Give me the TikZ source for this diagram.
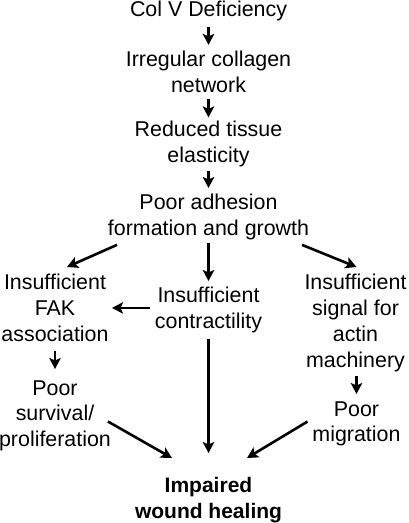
\documentclass[tikz,border=0pt]{standalone}
\usepackage{fontspec}
\setmainfont{Liberation Sans}
\usetikzlibrary{arrows.meta}
\begin{document}
\begin{tikzpicture}[x=1pt,y=-1pt,
  lbl/.style={anchor=north,inner sep=0pt,outer sep=0pt,align=center,
    font=\fontsize{21.4}{25.7}\selectfont},
  arr/.style={line width=2.6pt,-{Stealth[length=11pt,width=11.5pt,inset=2.5pt]}}]
\useasboundingbox[fill=white] (0,0) rectangle (408,523);
% nodes
\node[lbl] (colv) at (208.5,1.4) {Col V Deficiency};
\node[lbl] (irr) at (208.5,51.4) {Irregular collagen\\network};
\node[lbl] (red) at (208.5,121.4) {Reduced tissue\\elasticity};
\node[lbl] (adh) at (208.5,194.4) {Poor adhesion\\formation and growth};
\node[lbl] (fak) at (55,274.4) {Insufficient\\FAK\\association};
\node[lbl] (con) at (208.5,287.4) {Insufficient\\contractility};
\node[lbl] (sig) at (355.5,274.4) {Insufficient\\signal for\\actin\\machinery};
\node[lbl] (sur) at (55,380.4) {Poor\\survival/\\proliferation};
\node[lbl] (mig) at (356.5,401.4) {Poor\\migration};
\node[lbl,font=\fontsize{21}{25.7}\selectfont\bfseries] (imp) at (208.5,477.4) {Impaired\\wound healing};
% connectors
\draw[arr,shorten <=6pt,shorten >=6.5pt] (colv.south) -- (irr.north);
\draw[arr,shorten <=5.8pt,shorten >=4pt] (irr.south) -- (red.north);
\draw[arr,shorten <=4.3pt,shorten >=6.4pt] (red.south) -- (adh.north);
\draw[arr,shorten <=2.8pt,shorten >=6.4pt] (adh.south) -- (adh.south |- con.north);
\draw[arr,shorten <=5.8pt,shorten >=24.4pt] (con.south) -- (con.south |- imp.north);
\draw[arr,shorten <=5pt,shorten >=3.5pt] ([yshift=2.3pt]con.west) -- ([yshift=2.3pt]con.west -| fak.east);
\draw[arr,shorten <=9.6pt,shorten >=11.4pt] (fak.south) -- (fak.south |- sur.north);
\draw[arr,shorten <=4.4pt,shorten >=7.4pt] ([xshift=1pt]sig.south) -- ([xshift=1pt]sig.south |- mig.north);
\draw[arr] ([shift={(-91.5,4.8)}]adh.south) -- ([shift={(12,-7.4)}]fak.north);
\draw[arr] ([shift={(93.5,4.8)}]adh.south) -- ([shift={(1,-7.4)}]sig.north);
\draw[arr] ([shift={(-3,5.8)}]sur.east) -- ([shift={(-36.5,-19.4)}]imp.north);
\draw[arr] ([shift={(-5,-2.3)}]mig.west) -- ([shift={(38.5,-19.4)}]imp.north);
\end{tikzpicture}
\end{document}
